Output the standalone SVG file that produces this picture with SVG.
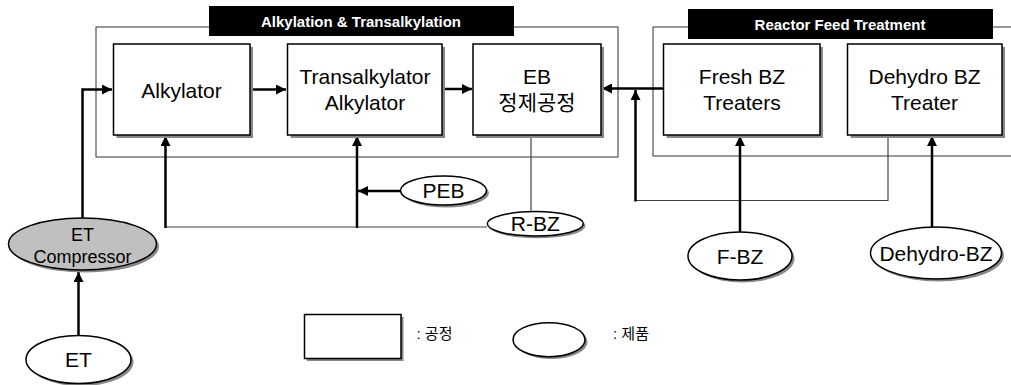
<svg xmlns="http://www.w3.org/2000/svg" width="1011" height="385" viewBox="0 0 1011 385">
<style>
text{font-family:"Liberation Sans","Noto Sans CJK KR",Arial,sans-serif;fill:#000;text-anchor:middle}
.n{font-size:21px}
.t{font-size:15px;font-weight:bold;fill:#fff}
.lg{font-size:15px;text-anchor:start}
.grp{fill:none;stroke:#333;stroke-width:1}
.ttl{fill:#000}
.box{fill:#fff;stroke:#000;stroke-width:1.5}
.sh{fill:#888}
.ell{fill:#fff;stroke:#000;stroke-width:1.5}
.thick{fill:none;stroke:#000;stroke-width:2.5}
.thin{fill:none;stroke:#444;stroke-width:1.2}
</style>
<defs>
<marker id="ah" viewBox="0 0 10 10" refX="10" refY="5" markerWidth="4" markerHeight="4" orient="auto" markerUnits="strokeWidth">
<path d="M0,0 L10,5 L0,10 z" fill="#000"/>
</marker>
</defs>
<rect width="1011" height="385" fill="#fff"/>

<g id="group-alkylation">
<rect class="grp" x="96" y="27" width="522" height="130"/>
<rect class="ttl" x="209" y="6" width="305" height="30"/>
<text class="t" x="361" y="27">Alkylation &amp; Transalkylation</text>
</g>
<g id="group-feed">
<rect class="grp" x="653" y="27" width="370" height="129"/>
<rect class="ttl" x="688" y="9" width="305" height="30"/>
<text class="t" x="840" y="30">Reactor Feed Treatment</text>
</g>

<g id="connectors">
<polyline class="thick" points="78.5,335 78.5,272" marker-end="url(#ah)"/>
<polyline class="thick" points="82.5,218 82.5,89.5 112,89.5" marker-end="url(#ah)"/>
<polyline class="thick" points="250,89.5 286,89.5" marker-end="url(#ah)"/>
<polyline class="thick" points="442,89 472,89" marker-end="url(#ah)"/>
<polyline class="thick" points="663,88.5 602,88.5" marker-end="url(#ah)"/>
<polyline class="thin" points="487,227 165.5,227"/>
<polyline class="thick" points="165.5,228 165.5,136" marker-end="url(#ah)"/>
<polyline class="thick" points="357,228 357,136" marker-end="url(#ah)"/>
<polyline class="thick" points="401,191 358,191" marker-end="url(#ah)"/>
<polyline class="thin" points="531,135 531,212"/>
<polyline class="thin" points="888,137 888,200.5 635.5,200.5"/>
<polyline class="thick" points="635.5,201.5 635.5,90" marker-end="url(#ah)"/>
<polyline class="thick" points="740,232 740,136" marker-end="url(#ah)"/>
<polyline class="thick" points="932,227 932,136" marker-end="url(#ah)"/>
</g>

<g id="alkylator">
<rect class="sh" x="116.5" y="47" width="136.5" height="91"/>
<rect class="box" x="113.5" y="44" width="136.5" height="91"/>
<text class="n" x="181.5" y="97.5">Alkylator</text>
</g>
<g id="transalkylator">
<rect class="sh" x="290.5" y="47" width="154.5" height="91"/>
<rect class="box" x="287.5" y="44" width="154.5" height="91"/>
<text class="n" x="365" y="84.3">Transalkylator</text>
<text class="n" x="365" y="109.5">Alkylator</text>
</g>
<g id="eb">
<rect class="sh" x="476" y="47" width="128" height="91"/>
<rect class="box" x="473" y="44" width="128" height="91"/>
<text class="n" x="537" y="84.3">EB</text>
<text class="n" x="537" y="110">정제공정</text>
</g>
<g id="fresh-bz">
<rect class="sh" x="666.5" y="47" width="156.5" height="91"/>
<rect class="box" x="663.5" y="44" width="156.5" height="91"/>
<text class="n" x="742" y="84.3">Fresh BZ</text>
<text class="n" x="742" y="110">Treaters</text>
</g>
<g id="dehydro-treater">
<rect class="sh" x="850.5" y="47" width="154.5" height="91"/>
<rect class="box" x="847.5" y="44" width="154.5" height="91"/>
<text class="n" x="924.5" y="84.3">Dehydro BZ</text>
<text class="n" x="924.5" y="110">Treater</text>
</g>

<g id="et-compressor">
<ellipse class="sh" cx="85" cy="246.5" rx="74" ry="26"/>
<ellipse class="ell" cx="82.5" cy="244" rx="74" ry="26" style="fill:#c0c0c0"/>
<text x="82.5" y="241" style="font-size:18px">ET</text>
<text x="82.5" y="262.5" style="font-size:18px">Compressor</text>
</g>
<g id="et">
<ellipse class="sh" cx="81" cy="362" rx="52.5" ry="24"/>
<ellipse class="ell" cx="78.5" cy="359.5" rx="52.5" ry="24"/>
<text class="n" x="78.5" y="367">ET</text>
</g>
<g id="peb">
<ellipse class="sh" cx="446" cy="193" rx="43" ry="14.5"/>
<ellipse class="ell" cx="443.5" cy="190.5" rx="43" ry="14.5"/>
<text class="n" x="443.5" y="197.5">PEB</text>
</g>
<g id="r-bz">
<ellipse class="sh" cx="537.5" cy="226" rx="48" ry="12.2"/>
<ellipse class="ell" cx="535.3" cy="223.8" rx="48" ry="12.2"/>
<text class="n" x="535.3" y="231">R-BZ</text>
</g>
<g id="f-bz">
<ellipse class="sh" cx="742.5" cy="258.5" rx="52" ry="24"/>
<ellipse class="ell" cx="740" cy="256" rx="52" ry="24"/>
<text class="n" x="740" y="263.5">F-BZ</text>
</g>
<g id="dehydro-bz">
<ellipse class="sh" cx="938.5" cy="255.5" rx="65.5" ry="26"/>
<ellipse class="ell" cx="936" cy="253" rx="65.5" ry="26"/>
<text class="n" x="936" y="260.5">Dehydro-BZ</text>
</g>

<g id="legend">
<rect class="sh" x="307" y="317" width="96.5" height="44"/>
<rect class="box" x="304.5" y="314.5" width="96.5" height="44"/>
<text class="lg" x="416.5" y="339">: 공정</text>
<ellipse class="sh" cx="551.5" cy="342" rx="36" ry="17"/>
<ellipse class="ell" cx="549" cy="339.7" rx="36" ry="17"/>
<text class="lg" x="613" y="339">: 제품</text>
</g>
</svg>
